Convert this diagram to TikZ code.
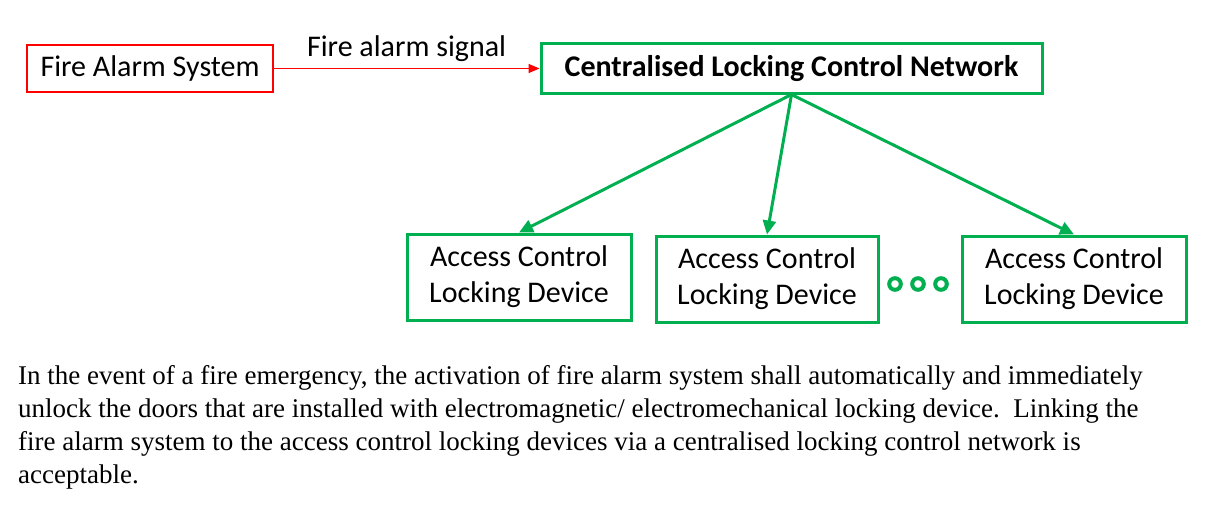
\documentclass[tikz,border=0pt]{standalone}
\usepackage{fontspec}
\setmainfont{Carlito}
\newfontfamily\serifpar{Liberation Serif}
\usetikzlibrary{arrows.meta}
\definecolor{olgreen}{HTML}{00B050}
\definecolor{olred}{HTML}{FF0000}

\tikzset{
  calib/.style={font=\fontsize{30}{36}\selectfont},
  redbox/.style={draw=olred, line width=1.2pt, calib, inner sep=0pt},
  greenbox/.style={draw=olgreen, line width=3pt, calib, inner sep=0pt, align=center},
  greenarrow/.style={draw=olgreen, line width=3pt, -{Triangle[length=14pt, width=13pt]}},
  redarrow/.style={draw=olred, line width=1.5pt, -{Triangle[length=11pt, width=9pt]}}
}

\begin{document}
\begin{tikzpicture}[x=1pt, y=-1pt]
\useasboundingbox (0,0) rectangle (1223,511);

% top row
\node (fas) [redbox, minimum width=246pt, minimum height=47pt] at (150,68.5) {Fire Alarm System};
\node (net) [greenbox, minimum width=501pt, minimum height=49pt, font=\bfseries\fontsize{30}{36}\selectfont] at (791.5,68.5) {Centralised Locking Control Network};

% locking devices
\node (dev1) [greenbox, minimum width=224pt, minimum height=86pt] at (519,277) {Access Control\\Locking Device};
\node (dev2) [greenbox, minimum width=222pt, minimum height=86pt] at (767,279) {Access Control\\Locking Device};
\node (dev3) [greenbox, minimum width=224pt, minimum height=86pt] at (1074,279) {Access Control\\Locking Device};

% dots between the devices
\foreach \x in {895,918,941}
  \draw [olgreen, line width=4pt] (\x,284) circle [radius=5.8pt];

% connectors
\draw [redarrow] (fas.east) -- node [midway, above=3pt, calib] {Fire alarm signal} (net.west);
\draw [greenarrow] (net.south) -- (dev1.north);
\draw [greenarrow] (net.south) -- (dev2.north);
\draw [greenarrow] (net.south) -- (dev3.north);

% note
\node (note) [anchor=north west, align=left, inner sep=0pt, font=\serifpar\fontsize{27}{33}\selectfont] at (18,365)
  {In the event of a fire emergency, the activation of fire alarm system shall automatically and immediately\\
   unlock the doors that are installed with electromagnetic/ electromechanical locking device.\ \ Linking the\\
   fire alarm system to the access control locking devices via a centralised locking control network is\\
   acceptable.};
\end{tikzpicture}
\end{document}
